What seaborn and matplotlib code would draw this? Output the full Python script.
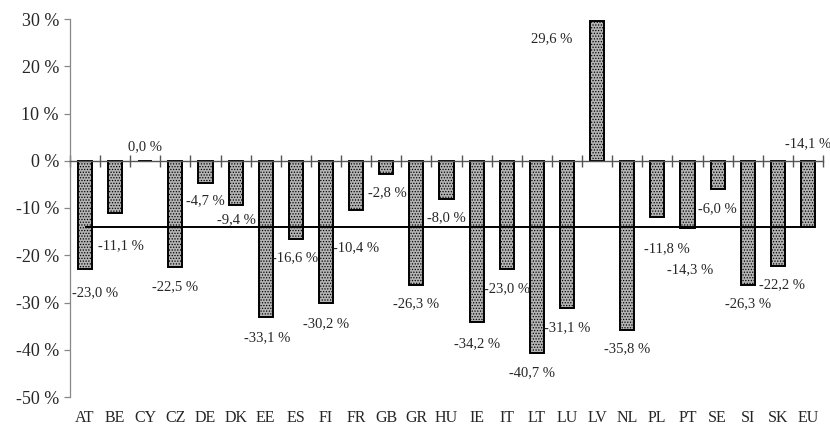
import matplotlib
matplotlib.use("Agg")
import matplotlib.pyplot as plt
import matplotlib.ticker as mticker
import seaborn as sns
import pandas as pd

# Daten
countries = ["AT", "BE", "CY", "CZ", "DE", "DK", "EE", "ES", "FI", "FR", "GB", "GR", "HU",
             "IE", "IT", "LT", "LU", "LV", "NL", "PL", "PT", "SE", "SI", "SK", "EU"]
values = [-23.0, -11.1, 0.0, -22.5, -4.7, -9.4, -33.1, -16.6, -30.2, -10.4, -2.8, -26.3, -8.0,
          -34.2, -23.0, -40.7, -31.1, 29.6, -35.8, -11.8, -14.3, -6.0, -26.3, -22.2, -14.1]
y_ticks = [30, 20, 10, 0, -10, -20, -30, -40, -50]

# Label-Versatz in Pixeln (dx, dy) relativ zum Balkenende
label_offsets = [(10, -23), (6, -32), (0, 14), (0, -20), (0, -18), (1, -15), (1, -21),
                 (-1, -19), (0, -20), (0, -38), (1, -19), (0, -19), (0, -19), (0, -21),
                 (0, -19), (-5, -20), (0, -20), (-45, -18), (0, -19), (10, -32), (3, -41),
                 (0, -20), (0, -19), (4, -19), (0, 84)]

df = pd.DataFrame({"country": countries, "value": values})

sns.set_style("white")
plt.rcParams["font.family"] = ["Liberation Serif", "DejaVu Serif"]
plt.rcParams["hatch.color"] = "#5a5a5a"
plt.rcParams["hatch.linewidth"] = 0.6

fig = plt.figure(figsize=(8.3, 4.32), dpi=100)
ax = fig.add_axes([70 / 830, 1 - 397 / 432, 753 / 830, 378 / 432])

sns.barplot(data=df, x="country", y="value", ax=ax, width=0.47, color="#b4b4b4",
            edgecolor="black", linewidth=1.4, saturation=1)
for p in ax.patches:
    p.set_hatch("......")

# Durchschnittslinie (EU)
ax.hlines(values[-1], 0, 24.23, color="black", linewidth=1.4, zorder=5)

# Achsen
ax.set_xlim(-0.5, 24.5)
ax.set_ylim(-50, 30)
ax.set_xlabel("")
ax.set_ylabel("")
for s in ["top", "right"]:
    ax.spines[s].set_visible(False)
ax.spines["bottom"].set_position(("data", 0))
ax.spines["bottom"].set_color("#555555")
ax.spines["bottom"].set_linewidth(1.0)
ax.spines["left"].set_color("#888888")
ax.spines["left"].set_linewidth(0.9)

ax.set_xticks([i - 0.5 for i in range(len(countries) + 1)])
ax.set_xticklabels([])
ax.tick_params(axis="x", direction="inout", length=9, width=1.0, color="#555555", bottom=True)

ax.set_yticks(y_ticks)
ax.yaxis.set_major_formatter(mticker.FuncFormatter(lambda v, _: f"{int(v)} %"))
ax.tick_params(axis="y", direction="out", length=4, width=0.9, color="#888888", left=True,
               labelsize=13, pad=4)

# Ländernamen unten
for i, c in enumerate(countries):
    ax.text(i, -0.056, c, transform=ax.get_xaxis_transform(), ha="center", va="center",
            fontsize=11.5)

# Wertbeschriftungen
for i, (v, (dx, dy)) in enumerate(zip(values, label_offsets)):
    txt = f"{v:.1f} %".replace(".", ",")
    ax.annotate(txt, (i, v), xytext=(dx, dy), textcoords="offset pixels",
                ha="center", va="center", fontsize=10.5, zorder=6)

fig.savefig("out.png", dpi=100)
